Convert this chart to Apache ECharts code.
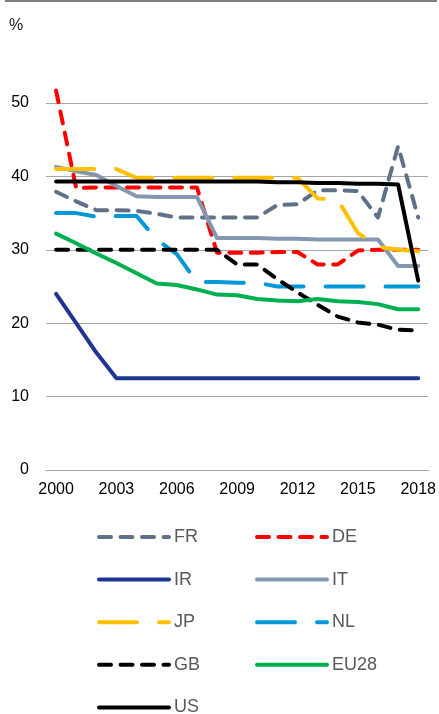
<!DOCTYPE html>
<html>
<head>
<meta charset="utf-8">
<script src="https://cdn.jsdelivr.net/npm/echarts@6/dist/echarts.min.js"></script>
<style>
html,body{margin:0;padding:0;background:#fff;}
#c{width:439px;height:714px;}
</style>
</head>
<body>
<div id="c"></div>
<script>
const years = ['2000','2001','2002','2003','2004','2005','2006','2007','2008','2009','2010','2011','2012','2013','2014','2015','2016','2017','2018'];
const yTicks = [0, 10, 20, 30, 40, 50];
const FR   = [37.9, 36.6, 35.4, 35.4, 35.3, 34.9, 34.4, 34.4, 34.4, 34.4, 34.4, 36.1, 36.2, 38.1, 38.1, 38.0, 34.4, 44.1, 34.4];
const DE   = [51.7, 38.4, 38.5, 38.5, 38.5, 38.5, 38.5, 38.5, 29.6, 29.6, 29.6, 29.7, 29.7, 28.0, 28.0, 29.9, 30.0, 30.0, 30.0];
const IR   = [24.0, 20.0, 16.0, 12.5, 12.5, 12.5, 12.5, 12.5, 12.5, 12.5, 12.5, 12.5, 12.5, 12.5, 12.5, 12.5, 12.5, 12.5, 12.5];
const IT   = [41.3, 40.7, 40.2, 38.7, 37.3, 37.2, 37.2, 37.2, 31.6, 31.6, 31.6, 31.5, 31.5, 31.4, 31.4, 31.4, 31.4, 27.8, 27.8];
const JP   = [41.0, 41.0, 41.0, 41.0, 39.8, 39.8, 39.8, 39.8, 39.8, 39.8, 39.8, 39.8, 39.8, 37.0, 36.8, 32.3, 30.4, 30.0, 29.8];
const NL   = [35.0, 35.0, 34.5, 34.6, 34.6, 31.4, 29.4, 25.6, 25.6, 25.5, 25.5, 25.0, 25.0, 25.0, 25.0, 25.0, 25.0, 25.0, 25.0];
const GB   = [30.0, 30.0, 30.0, 30.0, 30.0, 30.0, 30.0, 30.0, 30.0, 28.0, 28.0, 26.0, 24.2, 22.5, 20.9, 20.1, 19.8, 19.1, 19.0];
const EU28 = [32.2, 30.9, 29.5, 28.2, 26.8, 25.4, 25.2, 24.6, 23.9, 23.8, 23.3, 23.1, 23.0, 23.3, 23.0, 22.9, 22.6, 21.9, 21.9];
const US   = [39.3, 39.3, 39.3, 39.3, 39.3, 39.3, 39.3, 39.3, 39.3, 39.3, 39.3, 39.2, 39.2, 39.1, 39.1, 39.0, 39.0, 38.9, 25.8];

const shortDash = [12, 9.5];
const longDash = [38, 22];
const defs = [
  {name:'FR', data:FR, color:'#5e7188', type:shortDash},
  {name:'DE', data:DE, color:'#ff0000', type:shortDash},
  {name:'IR', data:IR, color:'#1f3593', type:'solid'},
  {name:'IT', data:IT, color:'#8497b0', type:'solid'},
  {name:'JP', data:JP, color:'#ffc000', type:longDash},
  {name:'NL', data:NL, color:'#0098d8', type:longDash},
  {name:'GB', data:GB, color:'#000000', type:shortDash},
  {name:'EU28', data:EU28, color:'#00b050', type:'solid'},
  {name:'US', data:US, color:'#000000', type:'solid'}
];
const font = 'Liberation Sans, Arial, sans-serif';
const chart = echarts.init(document.getElementById('c'), null, {renderer:'canvas'});
const legendCommon = {
  orient:'vertical', top:527, height:220, itemWidth:70, itemHeight:20, itemGap:22.6, padding:0,
  textStyle:{fontSize:18, color:'#595959', fontFamily:font, lineHeight:20},
  itemStyle:{opacity:0, borderWidth:0},
  lineStyle:{width:4, cap:'round', join:'round'},
  selectedMode:false
};
chart.setOption({
  animation:false,
  backgroundColor:'#fff',
  title:{text:'%', left:4, top:13, textStyle:{fontSize:16, fontWeight:'normal', color:'#1a1a1a', fontFamily:font}},
  graphic:[{type:'line', shape:{x1:5,y1:1,x2:437,y2:1}, style:{stroke:'#7f7f7f', lineWidth:2}}],
  grid:{left:46, right:10, top:103, bottom:244, containLabel:false},
  legend:[
    Object.assign({}, legendCommon, {left:97, data:['FR','IR','JP','GB','US']}),
    Object.assign({}, legendCommon, {left:255, data:['DE','IT','NL','EU28']})
  ],
  xAxis:{
    type:'category', data:years, boundaryGap:true,
    axisTick:{show:false},
    axisLine:{lineStyle:{color:'#a6a6a6', width:1}},
    axisLabel:{interval:2, fontSize:16, color:'#000', fontFamily:font, margin:12}
  },
  yAxis:{
    type:'value', min:yTicks[0], max:yTicks[yTicks.length-1], interval:10,
    axisLine:{show:false}, axisTick:{show:false},
    splitLine:{lineStyle:{color:'#a6a6a6', width:1}},
    axisLabel:{fontSize:16, color:'#000', fontFamily:font, margin:17}
  },
  series: defs.map(d => ({
    name:d.name, type:'line', data:d.data, symbol:'none', clip:false,
    color:d.color,
    lineStyle:{color:d.color, width:4, type:d.type, cap:'round', join:'round'},
    emphasis:{disabled:true}
  }))
});
</script>
</body>
</html>
